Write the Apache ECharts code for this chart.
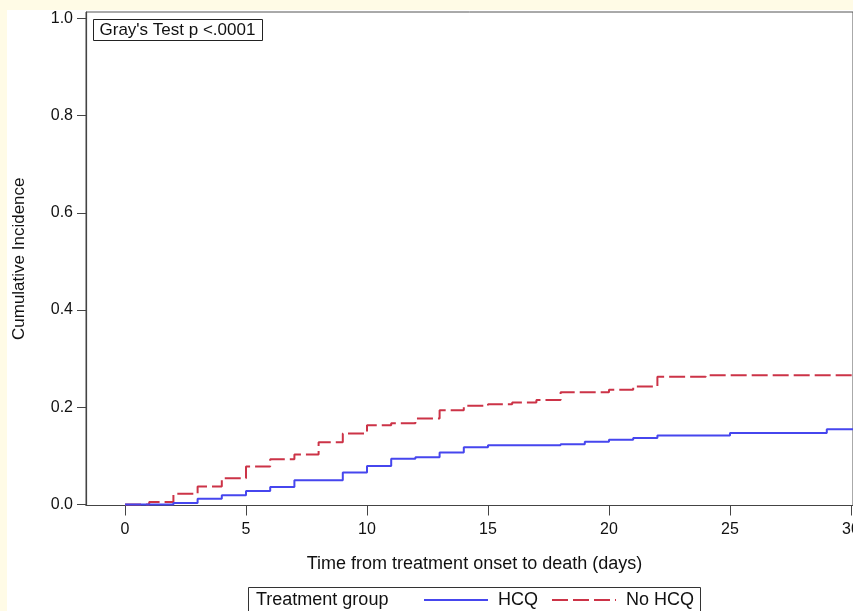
<!DOCTYPE html>
<html>
<head>
<meta charset="utf-8">
<script src="https://cdn.jsdelivr.net/npm/echarts@6/dist/echarts.min.js"></script>
<style>
  html, body { margin: 0; padding: 0; background: #fffbe6; }
  #paper { position: absolute; left: 7px; top: 10px; right: 0; bottom: 0; background: #fff; }
  #chart { position: absolute; left: 0; top: 0; width: 853px; height: 611px; }
</style>
</head>
<body>
<div id="paper"></div>
<div id="chart"></div>
<script>
// step points: value holds from this day until the next one
const HCQ_DAYS = [0, 2, 3, 4, 5, 6, 7, 9, 10, 11, 12, 13, 14, 15, 18, 19, 20, 21, 22, 25, 29, 31];
const HCQ_CIF = [0, 0.003, 0.012, 0.019, 0.028, 0.036, 0.050, 0.066, 0.079, 0.094, 0.097, 0.107, 0.118, 0.122, 0.124, 0.129, 0.133, 0.137, 0.142, 0.147, 0.155, 0.155];

const NO_HCQ_DAYS = [0, 1, 2, 3, 4, 5, 6, 7, 8, 9, 10, 11, 12, 13, 14, 15, 16, 17, 18, 20, 21, 22, 24, 31];
const NO_HCQ_CIF = [0, 0.005, 0.022, 0.037, 0.054, 0.078, 0.093, 0.103, 0.128, 0.146, 0.163, 0.167, 0.177, 0.194, 0.203, 0.206, 0.210, 0.215, 0.231, 0.236, 0.243, 0.263, 0.266, 0.266];

const X_TICKS = [0, 5, 10, 15, 20, 25, 30];
const Y_TICKS = [0, 0.2, 0.4, 0.6, 0.8, 1.0];

const GROUP_NAMES = ['HCQ', 'No HCQ'];
const TEST_TEXT = "Gray's Test p <.0001";

const FONT = '"Liberation Sans", Arial, sans-serif';
const AXIS_COLOR = '#444';
const BLUE = '#4646ee';
const RED = '#cc3347';

function pairs(xs, ys) {
    return xs.map((x, i) => [x, ys[i]]);
}

const chart = echarts.init(document.getElementById('chart'), null, { renderer: 'canvas' });

const option = {
    backgroundColor: 'transparent',
    animation: false,
    textStyle: { fontFamily: FONT },
    grid: {
        left: 86,
        top: 12,
        right: 0,
        bottom: 105.5,
        containLabel: false,
        outerBoundsMode: 'none',
        show: true,
        borderColor: '#555',
        borderWidth: 1
    },
    xAxis: {
        type: 'value',
        min: -1.612,
        max: 30.083,
        name: 'Time from treatment onset to death (days)',
        nameLocation: 'middle',
        nameGap: 50,
        nameTextStyle: { fontFamily: FONT, fontSize: 18, color: '#111', padding: [0, 0, 0, 10] },
        axisLine: { onZero: false, lineStyle: { color: AXIS_COLOR, width: 1.2 } },
        axisTick: { customValues: X_TICKS, length: 10, lineStyle: { color: AXIS_COLOR } },
        axisLabel: {
            customValues: X_TICKS,
            margin: 16,
            fontFamily: FONT,
            fontSize: 16,
            color: '#111'
        },
        splitLine: { show: false }
    },
    yAxis: {
        type: 'value',
        min: -0.002,
        max: 1.013,
        name: 'Cumulative Incidence',
        nameLocation: 'middle',
        nameGap: 58,
        nameTextStyle: { fontFamily: FONT, fontSize: 17, color: '#111' },
        axisLine: { show: true, onZero: false, lineStyle: { color: AXIS_COLOR, width: 1.2 } },
        axisTick: { show: true, customValues: Y_TICKS, length: 9, lineStyle: { color: AXIS_COLOR } },
        axisLabel: {
            customValues: Y_TICKS,
            margin: 13,
            fontFamily: FONT,
            fontSize: 16,
            color: '#111',
            formatter: v => v.toFixed(1)
        },
        splitLine: { show: false }
    },
    legend: {
        data: GROUP_NAMES,
        left: 423,
        top: 591,
        padding: 0,
        itemWidth: 64,
        itemHeight: 14,
        itemGap: 13,
        // hide the marker in the middle of the line sample
        itemStyle: { color: 'rgba(0,0,0,0)', borderWidth: 0 },
        textStyle: { fontFamily: FONT, fontSize: 18, color: '#111', padding: [0, 0, 0, 5] }
    },
    graphic: [
        {
            type: 'group',
            left: 93,
            top: 19,
            children: [
                {
                    type: 'rect',
                    shape: { x: 0, y: 0, width: 169, height: 21 },
                    style: { fill: '#fff', stroke: '#222', lineWidth: 1 }
                },
                {
                    type: 'text',
                    x: 6,
                    y: 10.5,
                    style: {
                        text: TEST_TEXT,
                        font: '17px ' + FONT,
                        fill: '#111',
                        verticalAlign: 'middle'
                    }
                }
            ]
        },
        {
            type: 'rect',
            left: 246,
            top: 585,
            shape: { width: 452, height: 40 },
            style: { fill: 'none', stroke: '#333', lineWidth: 1 }
        },
        {
            type: 'text',
            left: 256,
            top: 591,
            style: { text: 'Treatment group', font: '18px ' + FONT, fill: '#111' }
        }
    ],
    series: [
        {
            name: GROUP_NAMES[0],
            type: 'line',
            step: 'end',
            symbol: 'none',
            data: pairs(HCQ_DAYS, HCQ_CIF),
            lineStyle: { color: BLUE, width: 2 },
            itemStyle: { color: BLUE },
            z: 3
        },
        {
            name: GROUP_NAMES[1],
            type: 'line',
            step: 'end',
            symbol: 'none',
            data: pairs(NO_HCQ_DAYS, NO_HCQ_CIF),
            lineStyle: { color: RED, width: 2, type: [16, 5] },
            itemStyle: { color: RED },
            z: 2
        }
    ]
};

chart.setOption(option);

// the line view drops segments under 2px, which smears the small steps into slopes
chart.getZr().storage.getDisplayList(true).forEach(el => {
    if (el.segmentIgnoreThreshold > 0) {
        el.segmentIgnoreThreshold = 0.001;
        el.dirtyShape();
    }
});
chart.getZr().refreshImmediately();
</script>
</body>
</html>
